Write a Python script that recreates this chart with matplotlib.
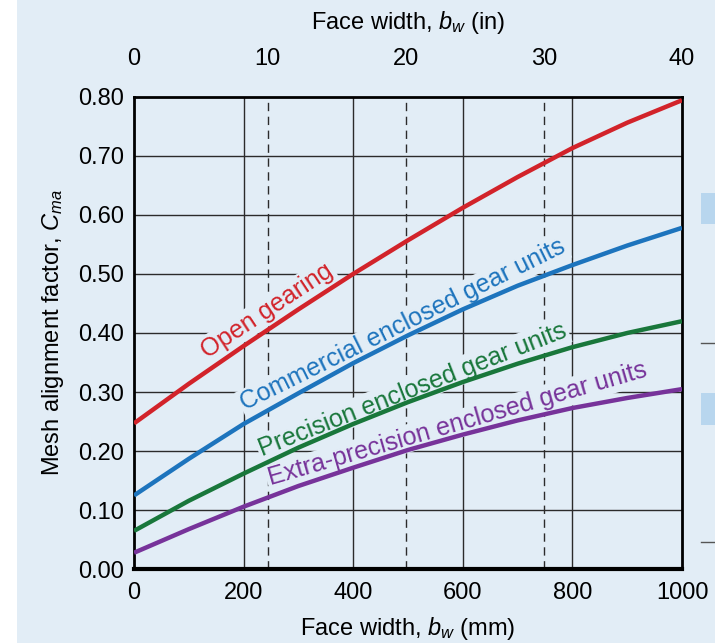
import matplotlib.pyplot as plt
from matplotlib.patches import Rectangle

# Mesh alignment factor vs face width
width_mm = [0, 100, 200, 300, 400, 500, 600, 700, 800, 900, 1000]
open_gearing = [0.247, 0.314, 0.378, 0.440, 0.500, 0.557, 0.612, 0.664, 0.713, 0.756, 0.794]
commercial = [0.125, 0.187, 0.246, 0.298, 0.349, 0.396, 0.440, 0.480, 0.515, 0.548, 0.578]
precision = [0.065, 0.116, 0.162, 0.206, 0.246, 0.283, 0.317, 0.348, 0.376, 0.400, 0.420]
extra_precision = [0.028, 0.068, 0.106, 0.141, 0.172, 0.202, 0.228, 0.252, 0.273, 0.290, 0.305]

curve_names = ['Open gearing', 'Commercial enclosed gear units',
               'Precision enclosed gear units', 'Extra-precision enclosed gear units']
curve_colors = ['#d2232a', '#1d74bd', '#19773b', '#77339a']

y_ticks = [0.0, 0.1, 0.2, 0.3, 0.4, 0.5, 0.6, 0.7, 0.8]
mm_ticks = [0, 200, 400, 600, 800, 1000]
in_tick_pos = [0, 244, 496, 749, 1000]   # where the inch marks fall on the mm scale
in_tick_labels = ['0', '10', '20', '30', '40']

bg = '#e2edf6'
plt.rcParams['font.family'] = ['Liberation Sans', 'DejaVu Sans']
plt.rcParams['mathtext.fontset'] = 'custom'
plt.rcParams['mathtext.it'] = 'Liberation Sans:italic'
plt.rcParams['mathtext.rm'] = 'Liberation Sans'

fig = plt.figure(figsize=(7.15, 6.43), dpi=100, facecolor=bg)
# white strip on the left edge and bits of a neighbouring figure on the right
fig.patches.append(Rectangle((0, 0), 17 / 715, 1, transform=fig.transFigure,
                             facecolor='white', edgecolor='none', zorder=0))
for y0, y1 in [(193, 224), (393, 425)]:
    fig.patches.append(Rectangle((701 / 715, 1 - y1 / 643), 14 / 715, (y1 - y0) / 643,
                                 transform=fig.transFigure, facecolor='#b8d6ee',
                                 edgecolor='none'))
for yy in [343, 542]:
    fig.add_artist(plt.Line2D([701 / 715, 1], [1 - yy / 643] * 2, color='#555555', lw=1))

ax = fig.add_axes([134 / 715, 1 - 569.3 / 643, 548 / 715, 472.6 / 643])
ax.set_facecolor(bg)
ax.set_xlim(0, 1000)
ax.set_ylim(0, 0.8)

# grid: solid at the mm marks and 0.1 steps, dashed at the inch marks
for v in y_ticks[1:-1]:
    ax.axhline(v, color='#2b2b2b', lw=1.0, zorder=1)
for v in mm_ticks[1:-1]:
    ax.axvline(v, color='#2b2b2b', lw=1.0, zorder=1)
for v in in_tick_pos[1:-1]:
    ax.axvline(v, color='#2b2b2b', lw=1.0, ls=(0, (6, 4)), zorder=1)

series = [open_gearing, commercial, precision, extra_precision]
for vals, col in zip(series, curve_colors):
    ax.plot(width_mm, vals, color=col, lw=3.2, solid_capstyle='butt', zorder=4)

# curve labels: baseline start (x, y) and rotation
label_spots = [(134, 0.357, 33.5), (203, 0.268, 26.3), (234, 0.192, 21.4), (249, 0.142, 16.1)]
for name, col, (lx, ly, rot) in zip(curve_names, curve_colors, label_spots):
    ax.text(lx, ly, name, color=col, fontsize=18.1, rotation=rot, rotation_mode='anchor',
            ha='left', va='baseline', zorder=3,
            bbox=dict(facecolor=bg, edgecolor='none', pad=1.5))

ax.set_yticks(y_ticks)
ax.set_yticklabels(['%.2f' % v for v in y_ticks])
ax.set_xticks(mm_ticks)
ax.tick_params(length=0, labelsize=17, colors='black')
ax.tick_params(axis='y', pad=7)
ax.tick_params(axis='x', pad=9)
for side in ['top', 'right', 'left']:
    ax.spines[side].set_linewidth(2.0)
ax.spines['bottom'].set_linewidth(3.0)

ax.set_ylabel('Mesh alignment factor, $C_{ma}$', fontsize=17, labelpad=9)
ax.set_xlabel('Face width, $b_w$ (mm)', fontsize=17, labelpad=8)

top = ax.twiny()
top.set_xlim(ax.get_xlim())
top.set_xticks(in_tick_pos)
top.set_xticklabels(in_tick_labels)
top.tick_params(length=0, labelsize=17, pad=19)
top.set_xlabel('Face width, $b_w$ (in)', fontsize=17, labelpad=14)
for s in top.spines.values():
    s.set_visible(False)

fig.savefig('out.png', dpi=100, facecolor=bg)
